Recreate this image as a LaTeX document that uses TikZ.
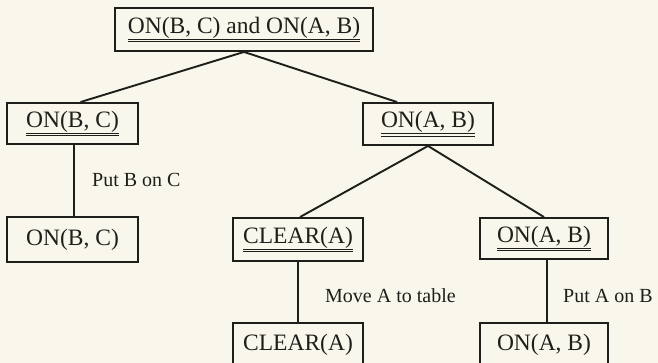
\documentclass[tikz,border=0pt]{standalone}
\usepackage{fontspec}
\setmainfont{Liberation Serif}
\usetikzlibrary{calc}
\definecolor{paper}{RGB}{249,247,236}
\definecolor{ink}{RGB}{30,30,26}
% double underline below the text of a goal
\newcommand\dul[1]{\leavevmode\vtop{\hbox{#1}\kern0.8pt\hrule height1pt\kern1.2pt\hrule height1pt}}
\tikzset{
  goal/.style={draw=ink, line width=1.9pt, text=ink, inner sep=0pt,
    minimum width=#1, font=\fontsize{23.5}{26}\selectfont},
  goal/.default=130pt,
  link/.style={draw=ink, line width=1.9pt},
  act/.style={anchor=west, text=ink, inner sep=0pt, font=\fontsize{20}{24}\selectfont}
}
\begin{document}
\begin{tikzpicture}[x=1pt, y=-1pt]
\useasboundingbox (0,0) rectangle (658,363);
\fill[paper] (0,0) rectangle (658,363);
\begin{scope}
\clip (0,0) rectangle (658,363);
% goal tree
\node[goal=258pt, minimum height=43pt] (top)   at (244,29.5)  {\dul{ON(B, C) and ON(A, B)}};
\node[goal=131pt, minimum height=41pt] (onbcA) at (72.5,123.5) {\dul{ON(B, C)}};
\node[goal, minimum height=42pt]       (onabA) at (428,124)    {\dul{ON(A, B)}};
\node[goal=131pt, minimum height=45pt] (onbcB) at (72.5,239.5) {ON(B, C)};
\node[goal, minimum height=43pt]       (clrA)  at (298,239.5)  {\dul{CLEAR(A)}};
\node[goal=128pt, minimum height=41pt] (onabB) at (544,238.5)  {\dul{ON(A, B)}};
\node[goal, minimum height=43pt]       (clrB)  at (298,344.5)  {CLEAR(A)};
\node[goal=128pt, minimum height=43pt] (onabC) at (544,344.5)  {ON(A, B)};
% branches
\draw[link] (top.south) -- ($(onbcA.north)+(8,0)$);
\draw[link] (top.south) -- ($(onabA.north)+(-31,0)$);
\draw[link] (onabA.south) -- ($(clrA.north)+(2,0)$);
\draw[link] (onabA.south) -- (onabB.north);
\draw[link] ($(onbcA.south)+(1.5,0)$) -- ($(onbcB.north)+(1.5,0)$);
\draw[link] (clrA.south) -- (clrB.north);
\draw[link] ($(onabB.south)+(3,0)$) -- ($(onabC.north)+(3,0)$);
% operators
\node[act] (opA) at (92,180)  {Put B on C};
\node[act] (opB) at (325,296) {Move A to table};
\node[act] (opC) at (563,296) {Put A on B};
\end{scope}
\end{tikzpicture}
\end{document}
